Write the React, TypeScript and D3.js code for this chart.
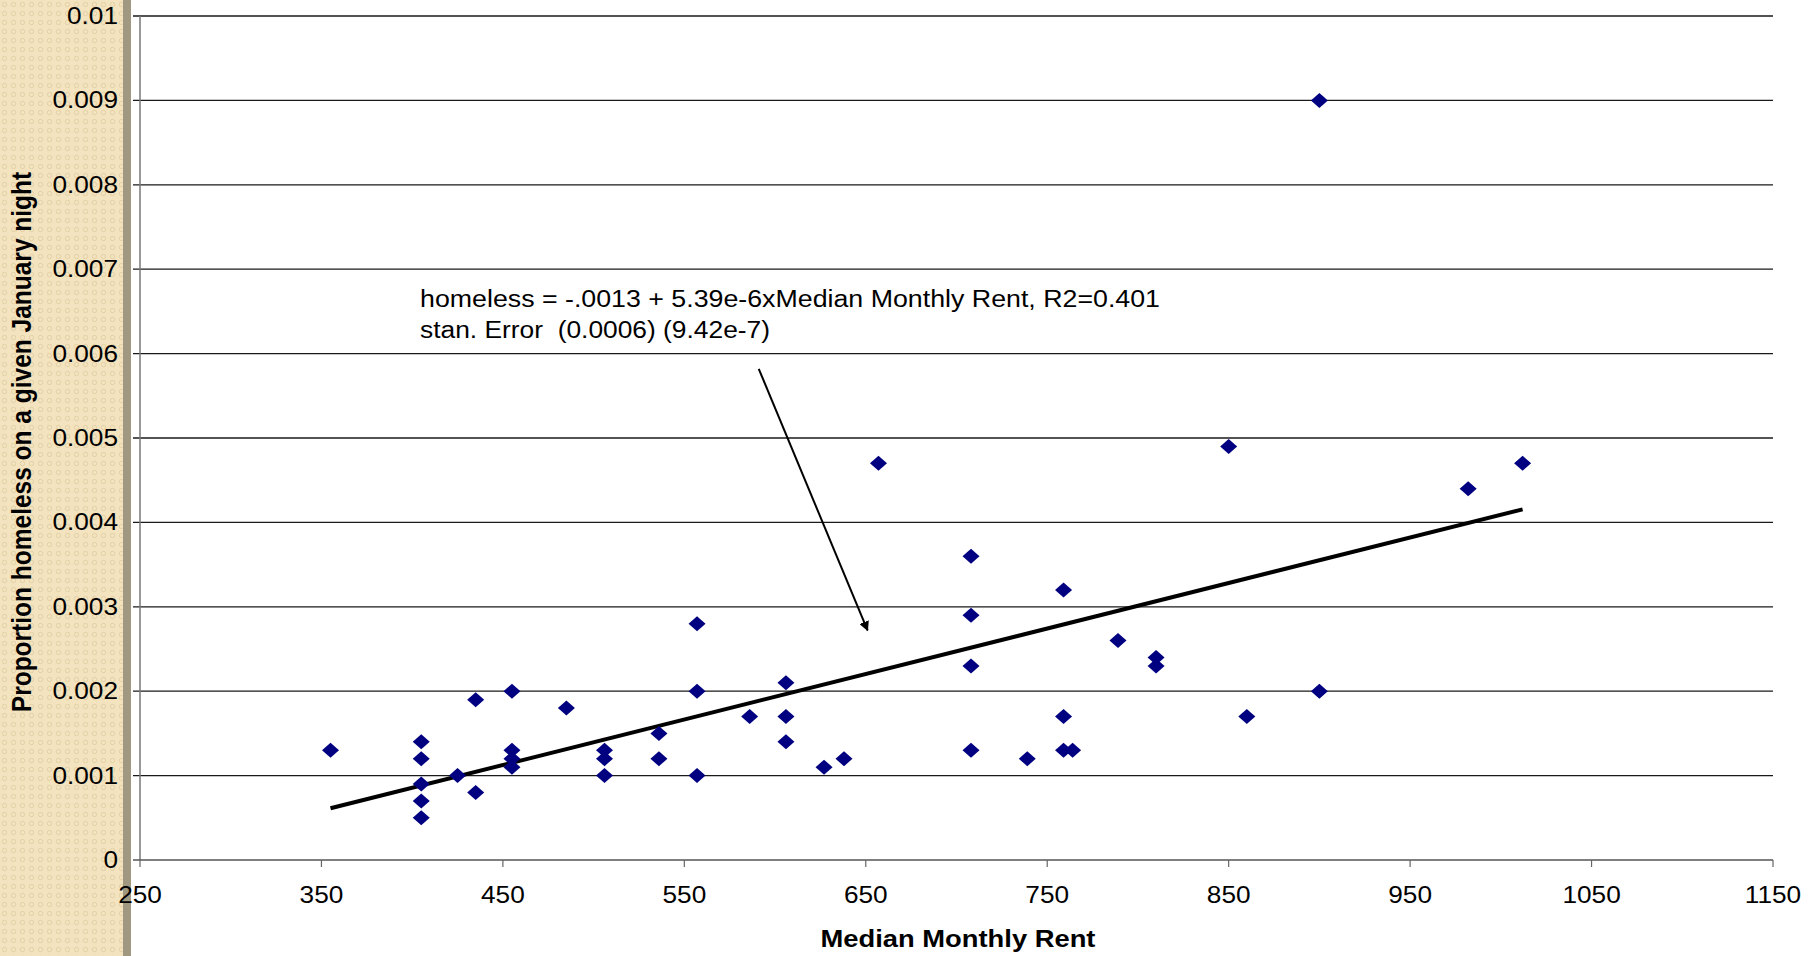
import React from 'react';
import * as d3 from 'd3';

// rent vs. share homeless
const rent = [
  355, 405, 405, 405, 405, 405, 425, 435, 435, 455, 455, 455, 455, 485,
  506, 506, 506, 536, 536, 557, 557, 557, 586, 606, 606, 606, 627, 638,
  657, 708, 708, 708, 708, 739, 759, 759, 759, 764, 789, 810, 810, 850,
  860, 900, 900, 982, 1012,
];
const homeless = [
  0.0013, 0.0014, 0.0012, 0.0009, 0.0007, 0.0005, 0.001, 0.0019, 0.0008, 0.002, 0.0013, 0.0012, 0.0011, 0.0018,
  0.0013, 0.0012, 0.001, 0.0015, 0.0012, 0.0028, 0.002, 0.001, 0.0017, 0.0021, 0.0017, 0.0014, 0.0011, 0.0012,
  0.0047, 0.0036, 0.0029, 0.0023, 0.0013, 0.0012, 0.0032, 0.0017, 0.0013, 0.0013, 0.0026, 0.0024, 0.0023, 0.0049,
  0.0017, 0.009, 0.002, 0.0044, 0.0047,
];

const xTicks = [250, 350, 450, 550, 650, 750, 850, 950, 1050, 1150];
const yTicks = [0, 0.001, 0.002, 0.003, 0.004, 0.005, 0.006, 0.007, 0.008, 0.009, 0.01];
const yTickLabels = ['0', '0.001', '0.002', '0.003', '0.004', '0.005', '0.006', '0.007', '0.008', '0.009', '0.01'];

// fitted line: homeless = -.0013 + 5.39e-6 * rent
const fitIntercept = -0.0013;
const fitSlope = 5.39e-6;
const fitRange = [355, 1012];

const noteLines = [
  'homeless = -.0013 + 5.39e-6xMedian Monthly Rent, R2=0.401',
  'stan. Error  (0.0006) (9.42e-7)',
];
// arrow from the note down to the line, in data units
const arrowFrom = [591, 0.00582];
const arrowTo = [651, 0.00272];

const W = 1813;
const H = 956;
const font = 'Arial, "Liberation Sans", sans-serif';
// the source picture is a bit wider than tall, text included
const SX = 1.14;

function Txt(props: any) {
  const { x, y, rot, children, ...rest } = props;
  const tf = `translate(${x},${y}) scale(${SX},1)` + (rot ? ` rotate(${rot})` : '');
  return (
    <text transform={tf} fontFamily={font} fill="#000" style={{ whiteSpace: 'pre' }} {...rest}>
      {children}
    </text>
  );
}

export default function App() {
  const x = d3.scaleLinear().domain([250, 1150]).range([140, 1773]);
  const y = d3.scaleLinear().domain([0, 0.01]).range([860, 16]);

  const pts = rent.map((r, i) => ({ r, h: homeless[i] }));
  const diamond = 'M0,-7.5L8.5,0L0,7.5L-8.5,0Z';

  const fitLine = d3.line<number>()
    .x(d => x(d))
    .y(d => y(fitIntercept + fitSlope * d));

  const ax0 = x(arrowFrom[0]), ay0 = y(arrowFrom[1]);
  const ax1 = x(arrowTo[0]), ay1 = y(arrowTo[1]);

  return (
    <svg width={W} height={H} style={{ position: 'absolute', left: 0, top: 0, background: '#fff' }}>
      <defs>
        <pattern id="dots" width="9" height="9" patternUnits="userSpaceOnUse">
          <rect width="9" height="9" fill="#f3e3bf" />
          <circle cx="4.5" cy="4.5" r="2.2" fill="none" stroke="#e3d0a6" strokeWidth="1" />
        </pattern>
        <marker id="head" viewBox="0 0 10 10" refX="9" refY="5" markerWidth="5" markerHeight="5" orient="auto">
          <path d="M0,0 L10,5 L0,10 z" fill="#000" />
        </marker>
      </defs>

      {/* side panel */}
      <rect x={0} y={0} width={123} height={H} fill="url(#dots)" />
      <rect x={123} y={0} width={8} height={H} fill="#a09880" />

      {/* grid */}
      {yTicks.slice(1).map(t => (
        <line key={t} x1={133} x2={1773} y1={y(t)} y2={y(t)} stroke="#1a1a1a" strokeWidth={1.3} />
      ))}

      {/* axes */}
      <line x1={140} x2={140} y1={16} y2={860} stroke="#777" strokeWidth={1.5} />
      <line x1={133} x2={1773} y1={860} y2={860} stroke="#555" strokeWidth={1.5} />
      {xTicks.map(t => (
        <line key={t} x1={x(t)} x2={x(t)} y1={860} y2={867} stroke="#666" strokeWidth={1.2} />
      ))}

      {yTicks.map((t, i) => (
        <Txt key={t} x={118} y={y(t)} dy="0.35em" textAnchor="end" fontSize={23}>
          {yTickLabels[i]}
        </Txt>
      ))}
      {xTicks.map(t => (
        <Txt key={t} x={x(t)} y={903} textAnchor="middle" fontSize={23}>
          {t}
        </Txt>
      ))}

      <Txt x={958} y={947} textAnchor="middle" fontSize={24} fontWeight="bold">
        Median Monthly Rent
      </Txt>
      <Txt x={31} y={(16 + 860) / 2 + 4} rot={-90} textAnchor="middle" fontSize={24.5} fontWeight="bold">
        Proportion homeless on a given January night
      </Txt>

      {/* fit */}
      <path d={fitLine(fitRange) || ''} fill="none" stroke="#000" strokeWidth={4} />

      {pts.map((p, i) => (
        <path key={i} d={diamond} transform={`translate(${x(p.r)},${y(p.h)})`} fill="#000080" />
      ))}

      {/* note + arrow */}
      <text fontFamily={font} fontSize={23} fill="#000" style={{ whiteSpace: 'pre' }}>
        <tspan x={420} y={307} textLength={740} lengthAdjust="spacingAndGlyphs">{noteLines[0]}</tspan>
        <tspan x={420} y={338} textLength={350} lengthAdjust="spacingAndGlyphs">{noteLines[1]}</tspan>
      </text>
      <line x1={ax0} y1={ay0} x2={ax1} y2={ay1} stroke="#000" strokeWidth={2} markerEnd="url(#head)" />
    </svg>
  );
}
